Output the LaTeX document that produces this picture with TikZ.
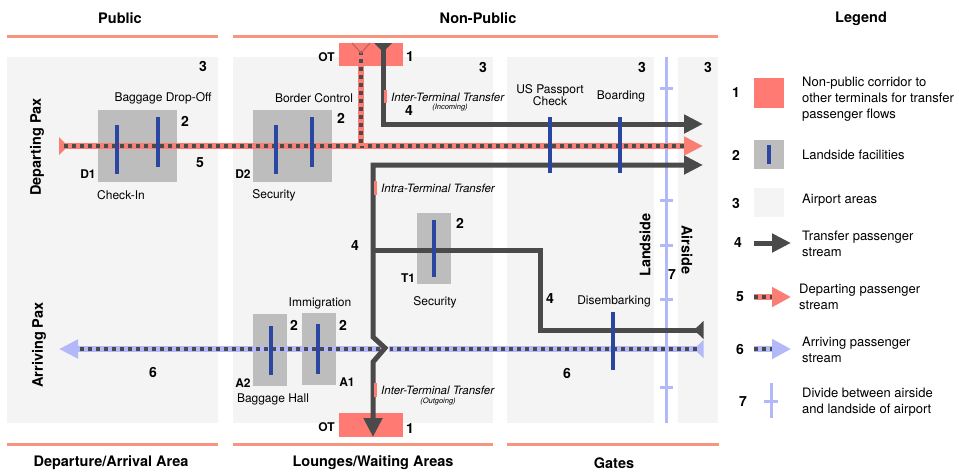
\documentclass[tikz,border=0pt]{standalone}
\usepackage{fontspec}
\setmainfont{TeX Gyre Heros}
\usetikzlibrary{arrows.meta}
\definecolor{hdr}{HTML}{F8957F}
\definecolor{areac}{HTML}{F4F4F4}
\definecolor{facg}{HTML}{BDBDBD}
\definecolor{barb}{HTML}{2A46A0}
\definecolor{tg}{HTML}{4A4A4A}
\definecolor{sal}{HTML}{FA7E74}
\definecolor{otc}{HTML}{FF7A72}
\definecolor{lb}{HTML}{B2B8F8}
\definecolor{chev}{HTML}{C9655E}
\tikzset{
  areabox/.style={fill=areac,draw=none},
  hdrline/.style={draw=hdr,line width=3pt},
  facbox/.style={fill=facg,draw=none},
  facbar/.style={draw=barb,line width=4pt},
  otbox/.style={fill=otc,draw=none},
  transfer/.style={draw=tg,line width=5pt},
  tiptg/.style={-{Triangle[length=19pt,width=18pt,fill=tg,color=tg]}},
  depline/.style={draw=sal,line width=6pt},
  arrline/.style={draw=lb,line width=6pt},
  dashline/.style={draw=tg,line width=3.5pt,dash pattern=on 4pt off 4pt},
  divline/.style={draw=lb,line width=3pt},
  ttl/.style={font=\fontsize{14.5}{17}\selectfont\bfseries,inner sep=0pt},
  lbl/.style={font=\fontsize{12}{14}\selectfont,inner sep=0pt},
  num/.style={font=\fontsize{14}{16}\selectfont\bfseries,inner sep=0pt},
  code/.style={font=\fontsize{12}{14}\selectfont\bfseries,inner sep=0pt},
  itl/.style={font=\fontsize{11.5}{13}\selectfont\itshape,inner sep=0pt,anchor=west},
  small/.style={font=\fontsize{7.5}{9}\selectfont\itshape,inner sep=0pt},
  legtxt/.style={font=\fontsize{13}{16}\selectfont,inner sep=0pt,anchor=west,align=left},
}
\begin{document}
\begin{tikzpicture}[x=1pt,y=-1pt]
\useasboundingbox (0,0) rectangle (959,472);
% areas
\fill[areabox] (7,57) rectangle (218,423);
\fill[areabox] (233,57) rectangle (493,423);
\fill[areabox] (507,57) rectangle (654,423);
\fill[areabox] (678,57) rectangle (718,423);
% header / footer lines
\draw[hdrline] (7,36) -- (218,36);
\draw[hdrline] (233,36) -- (718,36);
\draw[hdrline] (7,444) -- (218,444);
\draw[hdrline] (233,444) -- (493,444);
\draw[hdrline] (507,444) -- (719,444);
\node[ttl] (tpub) at (120,18) {Public};
\node[ttl] (tnon) at (478,18) {Non-Public};
\node[ttl] (tleg) at (861,19) {Legend};
\node[ttl] (bdep) at (111,463) {Departure/Arrival Area};
\node[ttl] (blou) at (373,463) {Lounges/Waiting Areas};
\node[ttl] (bgat) at (614,463) {Gates};
% area numbers
\node[num] (n3a) at (203,66) {3};
\node[num] (n3b) at (483,67) {3};
\node[num] (n3c) at (642,67) {3};
\node[num] (n3d) at (708,67) {3};
% side labels
\node[ttl,rotate=90] (dpax) at (37,147) {Departing Pax};
\node[ttl,rotate=90] (apax) at (39,345) {Arriving Pax};
\node[ttl,rotate=90] (lside) at (645,245) {Landside};
\node[ttl,rotate=-90] (aside) at (687,250) {Airside};
\node[num] (n7) at (672,275) {7};
% divide
\draw[divline] (666,57) -- (666,423);
\foreach \yy in {88,144,200,245,299,349,387}{\draw[divline] (659.5,\yy) -- (672.5,\yy);}
% facility boxes
\fill[facbox] (98,110) rectangle (177,182);
\fill[facbox] (253,110) rectangle (332,182);
\fill[facbox] (417,213) rectangle (451,284);
\fill[facbox] (253,314) rectangle (287,386);
\fill[facbox] (302,313) rectangle (336,385);
% OT boxes
\fill[otbox] (339,43) rectangle (403,66);
\fill[otbox] (339,413) rectangle (403,437);
\node[code,anchor=east] (ot1) at (335,57) {OT};
\node[num] (n1a) at (410,57) {1};
\node[code,anchor=east] (ot2) at (335,427) {OT};
\node[num] (n1b) at (410,429) {1};
% coordinates
\coordinate (dstart) at (59,146);
\coordinate (dend) at (703,146);
\coordinate (otdep) at (361,44);
\coordinate (dj) at (361,146);
\coordinate (tin) at (383,44);
\coordinate (tinc) at (383,124);
\coordinate (tinend) at (703,124);
\coordinate (tlend) at (703,165);
\coordinate (tlc) at (373,165);
\coordinate (zz1) at (373,337);
\coordinate (zz2) at (385,348);
\coordinate (zz3) at (373,362);
\coordinate (tout) at (373,437);
\coordinate (tbst) at (703,330);
\coordinate (tbc1) at (540,330);
\coordinate (tbc2) at (540,250);
\coordinate (tbj) at (373,250);
\coordinate (astart) at (703,349);
\coordinate (aend) at (59,349);
% arriving stream
\draw[arrline] (astart) -- (389,349);
\draw[arrline,-{Triangle[length=19pt,width=18pt,color=lb]}] (381,349) -- (aend);
\fill[lb] (703.5,340) -- (694,349) -- (703.5,358) -- cycle;
\draw[dashline] (697,349) -- (390,349);
\draw[dashline] (380,349) -- (79,349);
% departing stream
\draw[depline,-{Triangle[length=19pt,width=18pt,color=sal]}] (dstart) -- (dend);
\fill[sal] (59,137) -- (68,146) -- (59,155) -- cycle;
\draw[dashline] (64,146) -- (684,146);
\draw[depline] (otdep) -- (dj);
\draw[dashline] (361,51) -- (361,143);
\draw[chev,line width=1.3pt] (352,43) -- (361,53) -- (370,43);
% transfer streams
\draw[transfer,tiptg] (tin) -- (tinc) -- (tinend);
\fill[tg] (374,43) -- (392,43) -- (383,52) -- cycle;
\draw[transfer,{Triangle[length=19pt,width=18pt,color=tg]}-{Triangle[length=19pt,width=18pt,color=tg]}] (tlend) -- (tlc) -- (zz1) -- (zz2) -- (zz3) -- (tout);
\draw[transfer] (tbst) -- (tbc1) -- (tbc2) -- (tbj);
\fill[tg] (703.5,321) -- (694,330) -- (703.5,339) -- cycle;
% facility bars
\draw[facbar] (117,125) -- (117,174);
\draw[facbar] (158,117) -- (158,167);
\draw[facbar] (276,125) -- (276,174);
\draw[facbar] (312,117) -- (312,167);
\draw[facbar] (434,220) -- (434,277);
\draw[facbar] (271,326) -- (271,375);
\draw[facbar] (318,324) -- (318,374);
\draw[facbar] (550,117) -- (550,173);
\draw[facbar] (620,117) -- (620,173);
\draw[facbar] (613,312) -- (613,370);
% facility labels
\node[lbl] (lbag) at (163,98) {Baggage Drop-Off};
\node[num] (n2a) at (185,121) {2};
\node[num] (n5a) at (200,163) {5};
\node[code] (d1) at (88,174) {D1};
\node[lbl] (lchk) at (121,195) {Check-In};
\node[lbl] (lbor) at (314,98) {Border Control};
\node[num] (n2b) at (341,118) {2};
\node[code] (d2) at (243,174) {D2};
\node[lbl] (lsec) at (274,195) {Security};
\node[num] (n2c) at (460,223) {2};
\node[code] (t1) at (408,278) {T1};
\node[lbl] (lsec2) at (435,302) {Security};
\node[num] (n2d) at (294,325) {2};
\node[num] (n2e) at (343,325) {2};
\node[code] (a2) at (243,383) {A2};
\node[code] (a1) at (347,382) {A1};
\node[lbl] (lbh) at (273,399) {Baggage Hall};
\node[lbl] (limm) at (320,303) {Immigration};
\node[lbl,align=center] (lusp) at (550,95) {US Passport\\[-2pt]Check};
\node[lbl] (lboa) at (621,96) {Boarding};
\node[lbl] (ldis) at (614,301) {Disembarking};
% stream numbers
\node[num] (n4a) at (409,111) {4};
\node[num] (n4b) at (355,246) {4};
\node[num] (n4c) at (550,299) {4};
\node[num] (n6a) at (153,372) {6};
\node[num] (n6b) at (567,373) {6};
% transfer notes
\draw[draw=sal,line width=3pt] (385,90) -- (385,103);
\node[itl] (iti) at (391,97) {Inter-Terminal Transfer};
\node[small] (inc) at (450,108) {(Incoming)};
\draw[draw=sal,line width=3pt] (375,181) -- (375,195);
\node[itl] (itr) at (381,188) {Intra-Terminal Transfer};
\draw[draw=sal,line width=3pt] (375,383) -- (375,397);
\node[itl] (ito) at (381,390) {Inter-Terminal Transfer};
\node[small] (outg) at (438,402) {(Outgoing)};
% legend
\node[num] (l1) at (736,93) {1};
\fill[otc] (754,78) rectangle (784,108);
\node[legtxt] (lt1) at (802,99) {Non-public corridor to\\other terminals for transfer\\passenger flows};
\node[num] (l2) at (736,155) {2};
\fill[facg] (754,140) rectangle (784,169);
\draw[facbar] (769,145) -- (769,164);
\node[legtxt] (lt2) at (802,155) {Landside facilities};
\node[num] (l3) at (736,203) {3};
\fill[areac] (754,188) rectangle (784,217);
\node[legtxt] (lt3) at (802,200) {Airport areas};
\node[num] (l4) at (738,243) {4};
\coordinate (la4) at (754,243);
\coordinate (lb4) at (791,243);
\draw[transfer,tiptg] (la4) -- (lb4);
\node[legtxt] (lt4) at (802,244) {Transfer passenger\\stream};
\node[num] (l5) at (740,297) {5};
\coordinate (la5) at (754,297);
\coordinate (lb5) at (791,297);
\draw[depline,-{Triangle[length=19pt,width=19pt,color=sal]}] (la5) -- (lb5);
\draw[dashline] (754,297) -- (772,297);
\node[legtxt] (lt5) at (799,297) {Departing passenger\\stream};
\node[num] (l6) at (740,349) {6};
\coordinate (la6) at (754,349);
\coordinate (lb6) at (791,349);
\draw[arrline,-{Triangle[length=19pt,width=19pt,color=lb]}] (la6) -- (lb6);
\draw[dashline] (754,349) -- (772,349);
\node[legtxt] (lt6) at (802,349.5) {Arriving passenger\\stream};
\node[num] (l7) at (743,402) {7};
\draw[divline] (771,383) -- (771,418);
\draw[divline] (764,401) -- (778,401);
\node[legtxt] (lt7) at (802,402) {Divide between airside\\and landside of airport};
\end{tikzpicture}
\end{document}
